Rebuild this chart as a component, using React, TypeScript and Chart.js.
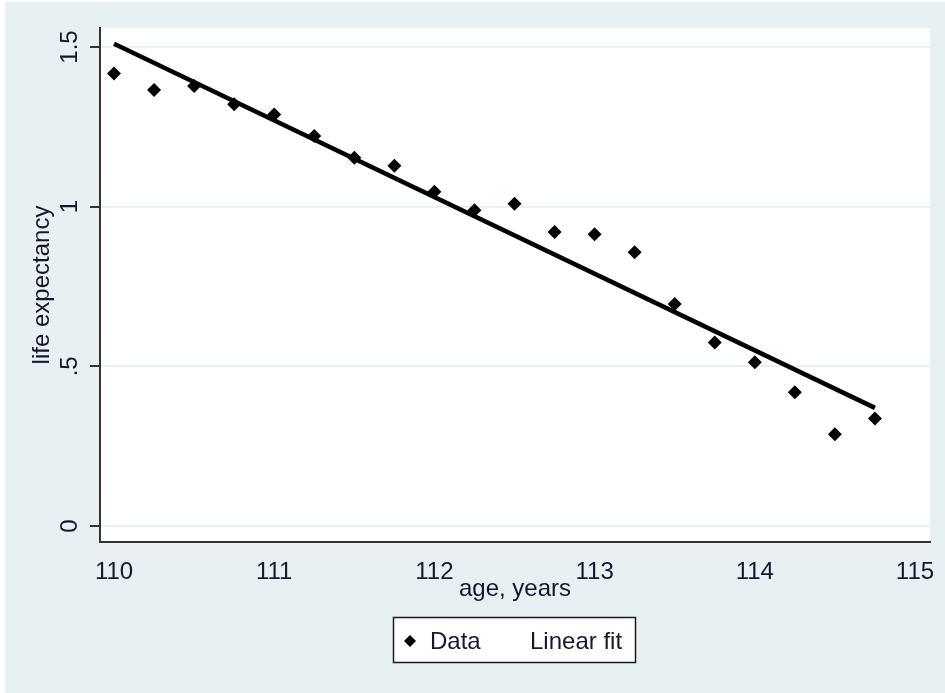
import React, { useEffect, useRef } from "react";
import { Chart, registerables } from "chart.js";

Chart.register(...registerables);

const ages = [110, 110.25, 110.5, 110.75, 111, 111.25, 111.5, 111.75, 112, 112.25, 112.5, 112.75, 113, 113.25, 113.5, 113.75, 114, 114.25, 114.5, 114.75];
const lifeExpectancy = [1.417, 1.365, 1.378, 1.321, 1.289, 1.221, 1.153, 1.128, 1.047, 0.989, 1.009, 0.921, 0.914, 0.857, 0.695, 0.575, 0.513, 0.419, 0.287, 0.337];
const fitAges = [110, 114.75];
const fitValues = [1.51, 0.37];
const xTicks = [110, 111, 112, 113, 114, 115];
const yTicks = [0, 0.5, 1, 1.5];
const yTickLabels = ["0", ".5", "1", "1.5"];

const BG = "#E8F0F2";
const GRID = "#EAF1F3";
const TEXT = "#161630";
const FONT = "'Liberation Sans', Arial, sans-serif";

const bgPlugin = {
  id: "stataBg",
  beforeDraw(chart: any) {
    const { ctx, chartArea } = chart;
    ctx.save();
    ctx.fillStyle = BG;
    ctx.fillRect(5, 2, chart.width - 5, chart.height - 2);
    ctx.fillStyle = "#ffffff";
    ctx.fillRect(chartArea.left, chartArea.top, chartArea.right - chartArea.left, chartArea.bottom - chartArea.top);
    ctx.restore();
  },
};

const legendPlugin = {
  id: "stataLegend",
  afterDraw(chart: any) {
    const { ctx } = chart;
    const x0 = 393, y0 = 617, w = 243, h = 46;
    ctx.save();
    ctx.fillStyle = "#ffffff";
    ctx.fillRect(x0, y0, w, h);
    ctx.strokeStyle = "#1a1a1a";
    ctx.lineWidth = 1.5;
    ctx.strokeRect(x0 + 0.5, y0 + 0.5, w - 1, h - 1);
    const ds = chart.data.datasets;
    const cy = 641;
    ctx.fillStyle = "#000";
    ctx.beginPath();
    ctx.moveTo(410, cy - 6);
    ctx.lineTo(416, cy);
    ctx.lineTo(410, cy + 6);
    ctx.lineTo(404, cy);
    ctx.closePath();
    ctx.fill();
    ctx.font = `24px ${FONT}`;
    ctx.fillStyle = TEXT;
    ctx.textBaseline = "alphabetic";
    ctx.textAlign = "left";
    ctx.fillText(ds[0].label, 430, 649);
    ctx.fillText(ds[1].label, 530, 649);
    ctx.restore();
  },
};

export default function App() {
  const ref = useRef<HTMLCanvasElement | null>(null);
  useEffect(() => {
    if (!ref.current) return;
    const chart = new Chart(ref.current, {
      type: "scatter",
      data: {
        datasets: [
          {
            label: "Data",
            data: ages.map((a, i) => ({ x: a, y: lifeExpectancy[i] })),
            pointStyle: "rectRot",
            pointRadius: 7,
            pointBackgroundColor: "#000",
            pointBorderColor: "#000",
            pointBorderWidth: 0,
            showLine: false,
          },
          {
            label: "Linear fit",
            data: fitAges.map((a, i) => ({ x: a, y: fitValues[i] })),
            showLine: true,
            borderColor: "#000",
            borderWidth: 4.5,
            pointRadius: 0,
          },
        ],
      },
      options: {
        responsive: false,
        animation: false,
        layout: { padding: { left: 0, right: 15, top: 28, bottom: 0 } },
        plugins: { legend: { display: false }, tooltip: { enabled: false } },
        scales: {
          x: {
            type: "linear",
            min: 109.9125,
            max: 115.09375,
            afterBuildTicks: (s: any) => {
              s.ticks = xTicks.map((v) => ({ value: v }));
            },
            afterFit: (s: any) => {
              s.height = 151;
            },
            grid: { display: false, drawOnChartArea: false, drawTicks: true, tickLength: 6, tickColor: "#333", tickWidth: 2 },
            border: { display: true, color: "#333", width: 2 },
            ticks: {
              font: { family: FONT, size: 24 },
              color: TEXT,
              padding: 10,
              maxRotation: 0,
              minRotation: 0,
              callback: (v: any) => String(v),
            },
            title: {
              display: true,
              text: "age, years",
              font: { family: FONT, size: 24 },
              color: TEXT,
              padding: { top: 0, bottom: 89 },
            },
          },
          y: {
            type: "linear",
            min: -0.0501,
            max: 1.5595,
            afterBuildTicks: (s: any) => {
              s.ticks = yTicks.map((v) => ({ value: v }));
            },
            afterFit: (s: any) => {
              s.width = 100;
            },
            grid: { display: true, color: GRID, lineWidth: 2, drawTicks: true, tickLength: 10, tickColor: "#333", tickWidth: 2 },
            border: { display: true, color: "#333", width: 2 },
            ticks: {
              font: { family: FONT, size: 24 },
              color: TEXT,
              padding: 3,
              minRotation: 90,
              maxRotation: 90,
              crossAlign: "center",
              callback: (v: any) => {
                const i = yTicks.indexOf(Number(v));
                return i >= 0 ? yTickLabels[i] : "";
              },
            },
            title: {
              display: true,
              text: "life expectancy",
              font: { family: FONT, size: 24 },
              color: TEXT,
              padding: { top: 28, bottom: 0 },
            },
          },
        },
      },
      plugins: [bgPlugin, legendPlugin],
    });
    return () => chart.destroy();
  }, []);
  return (
    <div style={{ position: "fixed", left: 0, top: 0, width: 945, height: 693, background: "#fff" }}>
      <canvas ref={ref} width={945} height={693} style={{ width: 945, height: 693, display: "block" }} />
    </div>
  );
}
